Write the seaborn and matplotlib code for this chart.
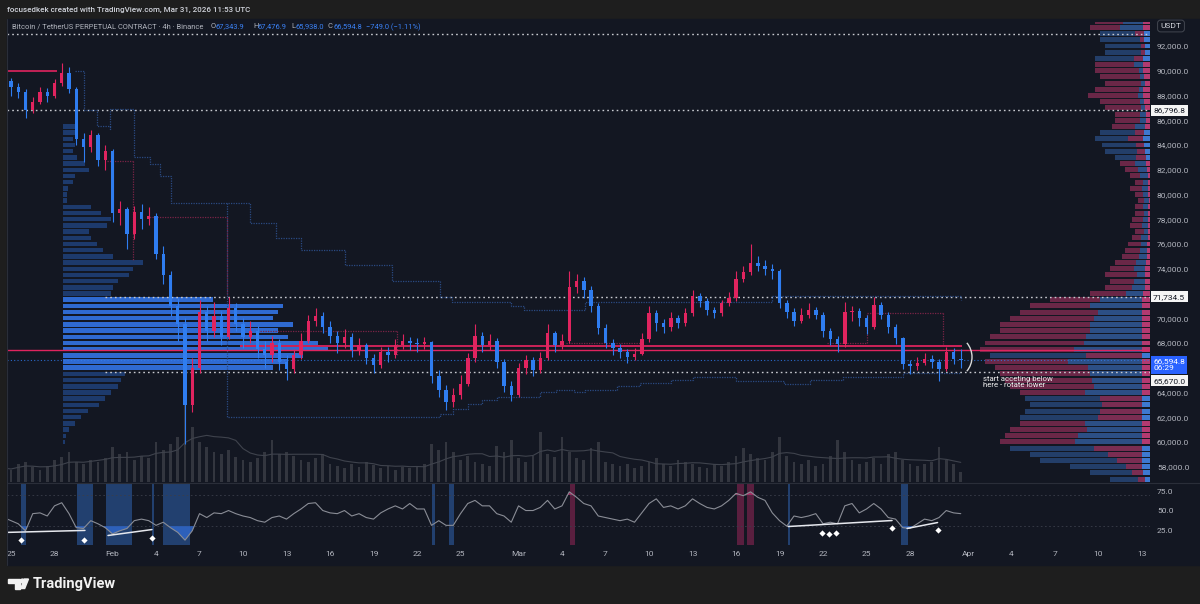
import numpy as np
import pandas as pd
import matplotlib
matplotlib.use("Agg")
import matplotlib.pyplot as plt
import matplotlib.dates as mdates
import matplotlib.transforms as mtransforms
from matplotlib.patches import Rectangle, Polygon, Circle, Arc
import seaborn as sns

# ---------------- data (12h candles) ----------------
start_time = "2026-01-24 12:00"
first_open = 89500
closes = [89200, 88700, 88300, 86800, 87500, 88300, 88000, 89000, 89800, 88500,
          84500, 83800, 84800, 82800, 83500, 78500, 78800, 76800, 78600, 78000,
          78300, 75200, 73500, 71000, 69500, 63000, 66000, 70500, 69000, 70200,
          68500, 70800, 69500, 68500, 69000, 67500, 67000, 68000, 66500, 65900,
          67000, 68200, 69800, 70200, 69300, 68600, 68000, 68500, 67400, 67800,
          66800, 66200, 67300, 67000, 67800, 68200, 68000, 67900, 68100, 65300,
          64200, 63200, 63800, 64700, 66800, 68600, 67800, 68200, 66500, 64500,
          63800, 66000, 66600, 65800, 66800, 68800, 67800, 68200, 72500, 73000,
          72300, 71000, 69200, 68000, 67600, 67300, 66900, 67100, 68300, 70400,
          69600, 69300, 70000, 69600, 70400, 71800, 71400, 70700, 70400, 71200,
          71600, 73200, 73700, 74500, 74200, 74000, 73800, 71200, 70500, 69800,
          70300, 70700, 70300, 69000, 68300, 67900, 70500, 70600, 70000, 69300,
          71100, 70300, 69300, 68400, 66300, 66100, 66400, 66700, 66500, 65900,
          67300, 66700, 66594.8]
highs = [89900, 89400, 89000, 88500, 87900, 88700, 88600, 89300, 90600, 90300,
         88700, 85000, 85200, 85000, 84000, 83700, 79500, 79000, 79100, 79200,
         79000, 78500, 75800, 73800, 71600, 70000, 66800, 71500, 71000, 71300,
         70600, 71700, 71200, 70000, 69800, 69400, 68200, 68600, 68300, 67000,
         67500, 68800, 70300, 70800, 70500, 69800, 69000, 69100, 68800, 68400,
         68000, 67100, 67700, 67700, 68300, 68700, 68500, 68400, 68500, 68200,
         65800, 64600, 64400, 65400, 67200, 69500, 68900, 68700, 68400, 66700,
         64900, 66400, 67000, 66900, 67300, 69500, 69000, 68700, 73800, 73600,
         73300, 72600, 71200, 69500, 68300, 67900, 67500, 67600, 68800, 71000,
         70700, 69900, 70500, 70300, 70800, 72300, 72000, 71600, 70900, 71500,
         72100, 73800, 74200, 76000, 75000, 74700, 74400, 74000, 71500, 70800,
         70800, 71200, 70900, 70500, 69200, 68600, 71300, 71000, 70800, 70300,
         71700, 71300, 70500, 69500, 68500, 66600, 66900, 67200, 67000, 66700,
         67700, 67600, 67476.9]
lows = [88900, 88000, 87800, 86200, 86600, 87300, 87500, 87800, 88800, 88200,
        84000, 82600, 83400, 82300, 82000, 77800, 77500, 75600, 76400, 77200,
        77500, 74800, 72800, 70200, 68200, 59800, 62400, 65600, 68200, 68500,
        67800, 68300, 69000, 67600, 68000, 66800, 66000, 66500, 65800, 65000,
        65600, 66700, 68000, 69400, 68800, 68000, 67200, 67600, 66900, 67000,
        66300, 65600, 66000, 66500, 66800, 67500, 67400, 67300, 67500, 64800,
        63600, 62600, 62800, 63500, 64500, 66500, 67300, 67400, 66000, 64000,
        63300, 63600, 65500, 65300, 65600, 66600, 67300, 67500, 68000, 72000,
        71600, 70500, 68700, 67600, 67000, 66800, 66400, 66600, 67000, 68100,
        69000, 68800, 69000, 69200, 69400, 70200, 70900, 70300, 70000, 70200,
        71000, 71400, 72900, 73500, 73800, 73500, 73200, 70800, 70000, 69400,
        69600, 70000, 69900, 68500, 67800, 67300, 67700, 69800, 69400, 68700,
        69100, 69900, 68800, 67900, 65900, 65500, 65800, 66200, 66000, 64900,
        65700, 66300, 65938.0]
volume = [14, 12, 18, 20, 15, 12, 16, 22, 25, 30, 20, 18, 22, 20, 24,
          35, 28, 30, 22, 26, 24, 40, 32, 38, 45, 88, 55, 40,
          35, 30, 28, 32, 25, 22, 20, 24, 30, 42, 28, 30, 26, 22,
          20, 24, 28, 18, 16, 14, 18, 15, 20, 17, 14, 16, 12, 15, 14, 16,
          18, 38, 32, 40, 30, 22, 26, 20, 18, 16, 36, 30, 42, 24,
          20, 26, 50, 28, 25, 45, 30, 24, 22, 34, 40, 20, 18, 16,
          18, 14, 16, 20, 24, 18, 16, 22, 20, 18, 15, 14, 18, 16,
          20, 26, 34, 28, 24, 22, 30, 45, 26, 20, 18, 22, 16, 18,
          26, 42, 30, 22, 18, 20, 24, 18, 28, 30, 22, 18, 16, 18,
          20, 35, 22, 18, 10]
rsi = [41, 37, 33, 24, 46, 47, 43, 56, 60, 46, 28, 27, 37, 33, 28, 20, 24, 27,
       37, 39, 37, 31, 35, 28, 22, 12, 24, 46, 41, 47, 46, 50, 46, 43, 41, 37,
       35, 41, 43, 39, 46, 52, 59, 60, 50, 47, 46, 50, 43, 46, 41, 39, 47, 52,
       56, 52, 59, 52, 52, 31, 37, 31, 31, 46, 59, 63, 56, 56, 46, 43, 35, 56,
       50, 50, 54, 63, 52, 56, 74, 67, 59, 56, 43, 41, 39, 37, 39, 35, 47, 59,
       65, 54, 56, 52, 56, 65, 59, 54, 52, 56, 63, 72, 69, 74, 67, 63, 47, 37,
       30, 43, 41, 43, 46, 33, 35, 33, 56, 59, 47, 52, 59, 52, 41, 39, 28, 27,
       33, 39, 37, 41, 50, 47, 46]

# fixed-range volume profile (left), price bins of 500 starting at 60000
left_prof_start, prof_step = 60000, 500
left_prof = [2, 3, 6, 12, 18, 25, 36, 42, 48, 55, 58, 62, 210, 225, 240, 265,
             255, 225, 215, 230, 210, 215, 220, 150, 48, 50, 55, 66, 70, 80, 50,
             40, 34, 28, 26, 44, 48, 38, 28, 4, 4, 5, 10, 12, 26, 22, 14, 10, 12,
             10, 12, 12]
# visible-range volume profile (right), bins of 500 starting at 57000
right_prof_start = 57000
right_prof = [40, 60, 80, 110, 120, 140, 150, 145, 140, 130, 130, 125, 120, 125,
              130, 140, 145, 150, 155, 165, 160, 170, 165, 160, 150, 150, 140,
              130, 120, 100, 60, 45, 40, 45, 40, 35, 28, 25, 22, 18, 15, 20, 18,
              15, 15, 12, 15, 20, 15, 20, 25, 30, 35, 45, 48, 55, 50, 38, 35, 35,
              45, 50, 62, 55, 45, 50, 55, 55, 55, 45, 45, 50, 50, 60, 55]
right_pink_share = [.3, .3, .3, .3, .35, .4, .5, .5, .55, .5, .4, .4, .4, .4, .5,
                    .6, .6, .6, .6, .5, .4, .55, .6, .6, .6, .6, .6, .6, .5, .5,
                    .6, .6, .6, .7, .6, .6, .6, .6, .6, .5, .6, .6, .6, .6, .5, .5,
                    .5, .6, .5, .5, .5, .5, .4, .3, .3, .4, .3, .6, .7, .7, .8, .8,
                    .8, .8, .8, .8, .8, .7, .3, .2, .2, .2, .3, .5, .5]
value_area = (65670.0, 71734.5)
key_levels = {"top": 92970, "hi": 86796.8, "vah": 71734.5, "val": 65670.0}
last_price = 66594.8
pink_levels = (67420, 67750, 90000)

# stepped anchored bands (day offset from Jan 25, price)
upper_band_days = [4.4, 5.0, 5.9, 6.8, 6.85, 8.4, 8.45, 9.6, 10.3, 11.0, 14.9, 16.5,
                   18.3, 20.0, 23.0, 26.3, 29.6, 30.4, 34.5, 35.4, 38.5, 39.6, 51.0,
                   52.5, 59.3, 65.5]
upper_band_px = [90000, 86800, 85500, 85300, 86900, 86900, 83000, 82500, 81500,
                 79300, 79300, 77700, 76500, 75500, 74300, 73000, 71700, 71300,
                 71000, 70700, 70700, 71300, 71300, 71800, 71800, 71500]
lower_band_days = [14.9, 14.9, 29.6, 30.5, 31.5, 32.5, 33.5, 36.5, 37.6, 38.8, 39.6,
                   41.8, 43.4, 45.5, 47.0, 50.0, 53.3, 55.1, 57.4, 61.5, 65.5]
lower_band_px = [79300, 62000, 62300, 62700, 63100, 63400, 63600, 64000, 64200,
                 64000, 64200, 64500, 64750, 65000, 65250, 64900, 64700, 65000,
                 65250, 65550, 65550]
pink_boxes = [(6.6, 82700, 8.4, 82700), (8.4, 82700, 8.4, 74700),
              (9.4, 78200, 14.9, 78200), (14.9, 78200, 14.9, 71900),
              (17.2, 69000, 26.6, 69000), (26.6, 69000, 26.6, 67000),
              (38.3, 68000, 43.4, 68000), (56.3, 68000, 59.0, 68000),
              (59.0, 68000, 59.0, 70400), (59.0, 70400, 64.3, 70400),
              (64.3, 70400, 64.3, 67900)]

# RSI decorations
rsi_blue_bands = [(0.69, 1.03), (4.55, 5.66), (6.55, 8.34), (9.72, 9.86),
                  (10.48, 12.34), (29.03, 29.24), (30.2, 30.55), (53.59, 53.72),
                  (61.38, 61.86)]
rsi_pink_bands = [(38.55, 38.9), (50.07, 50.55), (50.76, 51.24)]
div_lines = [((-0.2, 22), (5.1, 24.5)), ((6.69, 18), (9.72, 25.6)),
             ((53.6, 29.5), (60.76, 37.2)), ((61.8, 27), (63.9, 34.6))]
div_marks_day = [0.69, 5.03, 9.72, 55.9, 56.4, 56.9, 60.76, 63.9]
div_marks_rsi = [12.8, 12.8, 15.4, 21.8, 20.5, 21.8, 28.2, 24.4]

tick_dates = ["2026-01-25", "2026-01-28", "2026-02-01", "2026-02-04", "2026-02-07",
              "2026-02-10", "2026-02-13", "2026-02-16", "2026-02-19", "2026-02-22",
              "2026-02-25", "2026-03-01", "2026-03-04", "2026-03-07", "2026-03-10",
              "2026-03-13", "2026-03-16", "2026-03-19", "2026-03-22", "2026-03-25",
              "2026-03-28", "2026-04-01", "2026-04-04", "2026-04-07", "2026-04-10",
              "2026-04-13"]
tick_labels = ["25", "28", "Feb", "4", "7", "10", "13", "16", "19", "22", "25", "Mar",
               "4", "7", "10", "13", "16", "19", "22", "25", "28", "Apr", "4", "7",
               "10", "13"]
# scale labels (66,000 and 72,000 sit behind the highlighted price boxes)
price_ticks = [58000, 60000, 62000, 64000, 68000, 70000, 74000, 76000, 78000,
               80000, 82000, 84000, 86000, 88000, 90000, 92000]
rsi_ticks = [25, 50, 75]
legend_title = "Bitcoin / TetherUS PERPETUAL CONTRACT \u00b7 4h \u00b7 Binance"
legend_items = [("O", "67,343.9", 211), ("H", "67,476.9", 253),
                ("L", "65,938.0", 291), ("C", "66,594.8", 328)]
legend_change = "\u2212749.0 (\u22121.11%)"

# ---------------- style ----------------
W, H = 1200, 604
BG = "#131722"
FRAME = "#1e1e1e"
PINK = "#e0245f"
BLUE = "#2f7df0"
TXT = "#b2b5be"
VALC = "#3b82f6"

sns.set_theme(style="dark", rc={"axes.facecolor": BG, "figure.facecolor": FRAME,
                                "axes.edgecolor": BG, "xtick.color": TXT,
                                "ytick.color": TXT, "text.color": TXT})
plt.rcParams["font.family"] = ["Roboto", "DejaVu Sans"]

fig = plt.figure(figsize=(W / 100, H / 100), dpi=100, facecolor=FRAME)


def rect(x0, y0, x1, y1):
    return [x0 / W, 1 - y1 / H, (x1 - x0) / W, (y1 - y0) / H]


def fx(xp):
    return xp / W


def fy(yp):
    return 1 - yp / H


fig.add_artist(Rectangle((fx(7), fy(565)), (W - 7) / W, (565 - 19) / H,
                         transform=fig.transFigure, color=BG, zorder=0))

base = pd.Timestamp("2026-01-25")


def day(d):
    return mdates.date2num(base + pd.Timedelta(days=d))


ax = fig.add_axes(rect(7, 22, 1150, 482))
ax_bg = fig.add_axes(rect(7, 22, 1150, 482), sharey=ax)
ax_vol = fig.add_axes(rect(7, 22, 1150, 482), sharex=ax)
ax_rsi = fig.add_axes(rect(7, 483, 1150, 545), sharex=ax)
ax_bg.set_zorder(1)
ax_vol.set_zorder(2)
ax.set_zorder(3)
ax_rsi.set_zorder(3)
ax.patch.set_visible(False)
ax_vol.patch.set_visible(False)
for a in (ax, ax_bg, ax_vol, ax_rsi):
    for s in a.spines.values():
        s.set_visible(False)
    a.grid(False)

ax.set_ylim(56765, 93940)
ax.set_xlim(day(-0.276), day(78.55))

# ---- volume profiles (pixel x units) ----
ax_bg.set_xlim(0, 1143)
ax_bg.tick_params(left=False, right=False, bottom=False, labelleft=False,
                  labelright=False, labelbottom=False)
lp_levels = left_prof_start + prof_step * np.arange(len(left_prof))
in_va = (lp_levels >= value_area[0]) & (lp_levels <= value_area[1])
ax_bg.barh(lp_levels, left_prof, left=56, height=prof_step * 0.72,
           color=np.where(in_va, "#2f6ad0", "#1d3a6c"), linewidth=0)
rp_levels = right_prof_start + prof_step * np.arange(len(right_prof))
rp = np.array(right_prof, float)
ps = np.array(right_pink_share)
minor = rp * np.minimum(ps, 1 - ps)
maj_col = np.where(ps >= 0.5, "#6a2747", "#233e69")
min_col = np.where(ps >= 0.5, "#2c4f85", "#7a2d52")
ax_bg.barh(rp_levels, minor, left=1143 - minor, height=prof_step * 0.8,
           color=min_col, linewidth=0)
ax_bg.barh(rp_levels, rp - minor, left=1143 - rp, height=prof_step * 0.8,
           color=maj_col, linewidth=0)
tip = np.minimum(rp * 0.12, 8)
ax_bg.barh(rp_levels, tip, left=1143 - tip, height=prof_step * 0.8,
           color=np.where(ps >= 0.5, "#b33a70", "#3d78d0"), linewidth=0)

# ---- candles ----
times = pd.date_range(start_time, periods=len(closes), freq="12h")
x = mdates.date2num(times)
c = np.array(closes, float)
o = np.array([first_open] + closes[:-1], float)
hi = np.array(highs, float)
lo = np.array(lows, float)
col = np.where(c >= o, PINK, BLUE)
ax.vlines(x, lo, hi, colors=col, lw=0.8, zorder=5)
ax.bar(x, np.maximum(np.abs(c - o), 60), bottom=np.minimum(o, c), width=0.24,
       color=col, linewidth=0, zorder=6)

# ---- volume ----
ax_vol.set_ylim(0, 460)
ax_vol.bar(x, volume, width=0.2, color="#33363f", linewidth=0)
vol_ma = pd.Series(volume, dtype=float).rolling(8, min_periods=1).mean()
sns.lineplot(x=x, y=vol_ma.values, ax=ax_vol, color="#3f434d", lw=0.8, legend=False)
ax_vol.tick_params(left=False, right=False, bottom=False, labelleft=False,
                   labelright=False, labelbottom=False)
ax_vol.set_xlabel("")
ax_vol.set_ylabel("")

# ---- level lines ----
dots = (0, (1.2, 2.2))
ax.axhline(key_levels["top"], color="#c8cad0", lw=1.0, ls=dots, zorder=2)
ax.axhline(key_levels["hi"], color="#c8cad0", lw=1.0, ls=dots, zorder=2)
ax.hlines([key_levels["vah"], key_levels["val"]], day(6.5), day(78.55),
          color="#c8cad0", lw=1.0, ls=dots, zorder=2)
ax.axhline(pink_levels[0], color=PINK, lw=1.0, zorder=3)
ax.hlines(pink_levels[1], day(15.8), day(65.6), color=PINK, lw=1.4, zorder=3, alpha=0.9)
ax.hlines(pink_levels[2], day(-0.3), day(3.2), color=PINK, lw=1.2, zorder=3)
ax.axhline(last_price, color=BLUE, lw=0.8, ls=(0, (1, 2)), zorder=2, alpha=0.8)

ub_x = [day(d) for d in upper_band_days]
lb_x = [day(d) for d in lower_band_days]
ax.plot(ub_x, upper_band_px, drawstyle="steps-post", color="#2a4a82", lw=0.9,
        ls=(0, (1, 1)), zorder=2)
ax.plot(lb_x, lower_band_px, drawstyle="steps-post", color="#2a4a82", lw=0.9,
        ls=(0, (1, 1)), zorder=2)
for d0, p0, d1, p1 in pink_boxes:
    ax.plot([day(d0), day(d1)], [p0, p1], color="#7a2446", lw=0.9,
            ls=(0, (1, 1)), zorder=2)

# ---- price scale ----
ax.yaxis.tick_right()
ax.set_yticks(price_ticks)
ax.set_yticklabels([f"{v:,.1f}" for v in price_ticks])
ax.tick_params(axis="y", length=0, pad=5, labelsize=6, colors=TXT, labelright=True,
               labelleft=False)
ax.tick_params(axis="x", bottom=False, labelbottom=False)

lab_tr = mtransforms.blended_transform_factory(ax.transAxes, ax.transData)
x_lab = 1 + 3 / 1143


def price_box(val, text, fc, tc, dy=0):
    tr = mtransforms.offset_copy(lab_tr, fig=fig, x=0, y=dy, units="dots")
    ax.text(x_lab, val, text, transform=tr, ha="left", va="center", fontsize=6,
            color=tc, clip_on=False, zorder=20, linespacing=1.15,
            bbox=dict(boxstyle="square,pad=0.3", fc=fc, ec="none"))


price_box(key_levels["hi"], "86,796.8", "#f5f5f5", "#131722")
price_box(key_levels["vah"], "71,734.5", "#f5f5f5", "#131722")
price_box(last_price, "66,594.8\n06:29", "#2962ff", "#ffffff", dy=-4.5)
price_box(key_levels["val"], "65,670.0", "#f5f5f5", "#131722", dy=-9)
fig.text(fx(1171), fy(26), "USDT", ha="center", va="center", fontsize=6,
         color="#d1d4dc", zorder=20,
         bbox=dict(boxstyle="round,pad=0.35", fc="#131722", ec="#4a4e58", lw=0.6))

# ---- RSI pane ----
ax_rsi.set_ylim(5.8, 85.3)
for a0, a1 in rsi_blue_bands:
    ax_rsi.axvspan(day(a0), day(a1), color="#22406f", lw=0, zorder=1)
for a0, a1 in rsi_pink_bands:
    ax_rsi.axvspan(day(a0), day(a1), color="#5a1f3f", lw=0, zorder=1)
for lvl in (70, 30):
    ax_rsi.axhline(lvl, color="#3a3e4a", lw=0.6, ls=(0, (2, 3)), zorder=2)
r = np.array(rsi, float)
ax_rsi.fill_between(x, r, 30, where=r < 30, interpolate=True, color="#2f66c8",
                    alpha=0.85, lw=0, zorder=3)
ax_rsi.fill_between(x, r, 70, where=r > 70, interpolate=True, color="#b0306a",
                    alpha=0.85, lw=0, zorder=3)
sns.lineplot(x=x, y=r, ax=ax_rsi, color="#8a8d96", lw=0.8, legend=False, zorder=4)
for (d0, v0), (d1, v1) in div_lines:
    ax_rsi.plot([day(d0), day(d1)], [v0, v1], color="#e6e8ee", lw=1.1, zorder=5)
ax_rsi.scatter([day(d) for d in div_marks_day], div_marks_rsi, marker="D", s=10,
               color="white", zorder=6, linewidths=0)
ax_rsi.set_xlabel("")
ax_rsi.set_ylabel("")
ax_rsi.yaxis.tick_right()
ax_rsi.set_yticks(rsi_ticks)
ax_rsi.set_yticklabels([f"{v:.1f}" for v in rsi_ticks])
ax_rsi.tick_params(axis="y", length=0, pad=5, labelsize=6, colors=TXT)
ax_rsi.set_xticks(mdates.date2num(pd.to_datetime(tick_dates)))
ax_rsi.set_xticklabels(tick_labels)
ax_rsi.tick_params(axis="x", length=0, pad=4.5, labelsize=6, colors=TXT)
ax_rsi.set_xlim(day(-0.276), day(78.55))

# pane separators
fig.add_artist(plt.Line2D([fx(7), 1], [fy(482.5), fy(482.5)], color="#2a2e39",
                          lw=0.8, transform=fig.transFigure, zorder=5))
fig.add_artist(plt.Line2D([fx(7), fx(7)], [fy(19), fy(565)], color="#2a2e39",
                          lw=0.8, transform=fig.transFigure, zorder=5))

# ---- annotations ----
fig.text(fx(983), fy(376), "start acceting below\nhere - rotate lower", ha="left",
         va="top", fontsize=5.6, color="#f0f0f0", linespacing=1.0, zorder=20)
fig.add_artist(Arc((950, H - 357), 44, 44, theta1=-40, theta2=40,
                   transform=mtransforms.IdentityTransform(), color="#d8d8d8",
                   lw=1.0, zorder=20))

# ---- header / legend ----
fig.text(fx(7), fy(10), "focusedkek created with TradingView.com, Mar 31, 2026 11:53 UTC",
         ha="left", va="center", fontsize=5.8, color="#d1d4dc", weight="medium")
fig.text(fx(12), fy(27), legend_title, ha="left", va="center", fontsize=5.4, color=TXT)
for key, val, xp in legend_items:
    fig.text(fx(xp), fy(27), key, ha="left", va="center", fontsize=5.4, color=TXT)
    fig.text(fx(xp + 5), fy(27), val, ha="left", va="center", fontsize=5.4, color=VALC)
fig.text(fx(366), fy(27), legend_change, ha="left", va="center", fontsize=5.4,
         color=VALC)

# ---- footer logo ----
fig.text(fx(33), fy(584), "TradingView", ha="left", va="center", fontsize=10.5,
         color="#f2f2f2", weight="bold")
idt = mtransforms.IdentityTransform()
fig.add_artist(Polygon([(8, H - 579), (20, H - 579), (20, H - 588.5), (14.5, H - 588.5),
                        (14.5, H - 583), (8, H - 583)], closed=True, color="#f2f2f2",
                       transform=idt, zorder=20))
fig.add_artist(Circle((22.5, H - 581), 1.9, color="#f2f2f2", transform=idt, zorder=20))
fig.add_artist(Polygon([(20.7, H - 588.5), (24.7, H - 588.5), (28.5, H - 579),
                        (24.5, H - 579)], closed=True, color="#f2f2f2", transform=idt,
                       zorder=20))

fig.savefig("out.png", dpi=100, facecolor=FRAME)
